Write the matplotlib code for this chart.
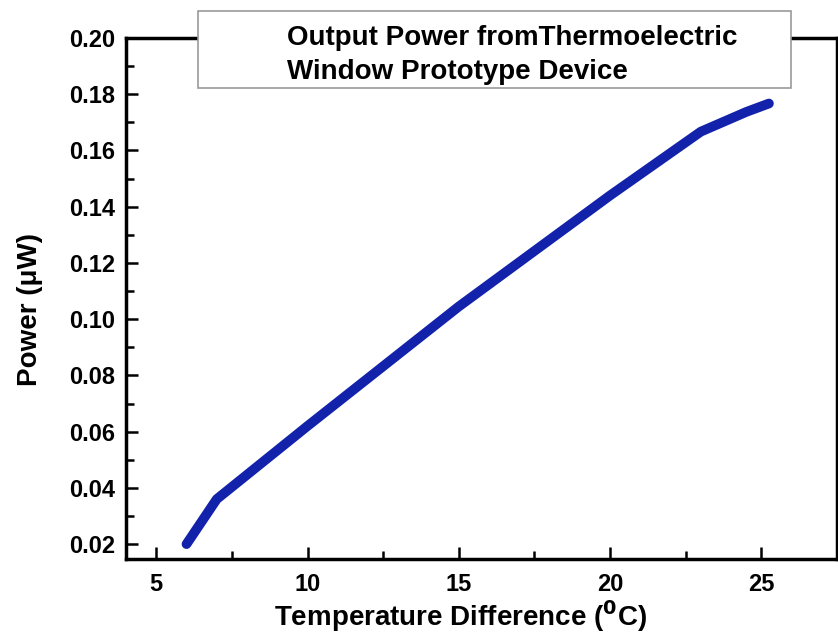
import matplotlib
matplotlib.use('Agg')
import matplotlib.pyplot as plt
from matplotlib.patches import Rectangle
from matplotlib.ticker import MultipleLocator

# data
temp_diff = [6.0, 7.0, 10.0, 15.0, 20.0, 23.0, 24.5, 25.25]
power = [0.020, 0.036, 0.062, 0.1045, 0.144, 0.1667, 0.1737, 0.1767]

title_lines = ["Output Power fromThermoelectric", "Window Prototype Device"]

plt.rcParams['font.family'] = ['Liberation Sans', 'DejaVu Sans']
plt.rcParams['font.weight'] = 'bold'
plt.rcParams['mathtext.default'] = 'bf'

W, H = 838, 640
fig = plt.figure(figsize=(W / 100, H / 100), dpi=100)
ax = fig.add_axes([126 / W, (H - 559) / H, (837 - 126) / W, (559 - 38) / H])

ax.plot(temp_diff, power, color='#1222aa', linewidth=7, solid_capstyle='round',
        solid_joinstyle='round')

ax.set_xlim(4, 27.5)
ax.set_ylim(0.0147, 0.20)
ax.xaxis.set_major_locator(MultipleLocator(5))
ax.xaxis.set_minor_locator(MultipleLocator(2.5))
ax.yaxis.set_minor_locator(MultipleLocator(0.01))
ax.set_yticks([0.02, 0.04, 0.06, 0.08, 0.10, 0.12, 0.14, 0.16, 0.18, 0.20])
ax.set_yticklabels(['%.2f' % v for v in ax.get_yticks()])

for s in ax.spines.values():
    s.set_linewidth(2.5)
ax.tick_params(which='major', direction='in', length=8.5, width=1.8, labelsize=17, pad=8)
ax.tick_params(which='minor', direction='in', length=5.5, width=1.8)
ax.tick_params(axis='x', which='major', pad=10)
for lab in ax.get_xticklabels() + ax.get_yticklabels():
    lab.set_fontweight('bold')

fig.text(460 / W, 1 - 616 / H, 'Temperature Difference ($^{0}$C)', ha='center', va='center',
         fontsize=20, fontweight='bold')
fig.text(30 / W, 1 - 310 / H, 'Power (\u03bcW)', ha='center', va='center', rotation=90,
         fontsize=20, fontweight='bold')

# title box sitting on top of the frame
box = Rectangle((198 / W, 1 - 88 / H), (791 - 198) / W, (88 - 11) / H, transform=fig.transFigure,
                facecolor='white', edgecolor='#999999', linewidth=1.2, zorder=10)
fig.add_artist(box)
fig.text(287 / W, 1 - 38 / H, title_lines[0], ha='left', va='center', fontsize=20,
         fontweight='bold', zorder=11)
fig.text(287 / W, 1 - 72 / H, title_lines[1], ha='left', va='center', fontsize=20,
         fontweight='bold', zorder=11)

fig.savefig('out.png', dpi=100)
